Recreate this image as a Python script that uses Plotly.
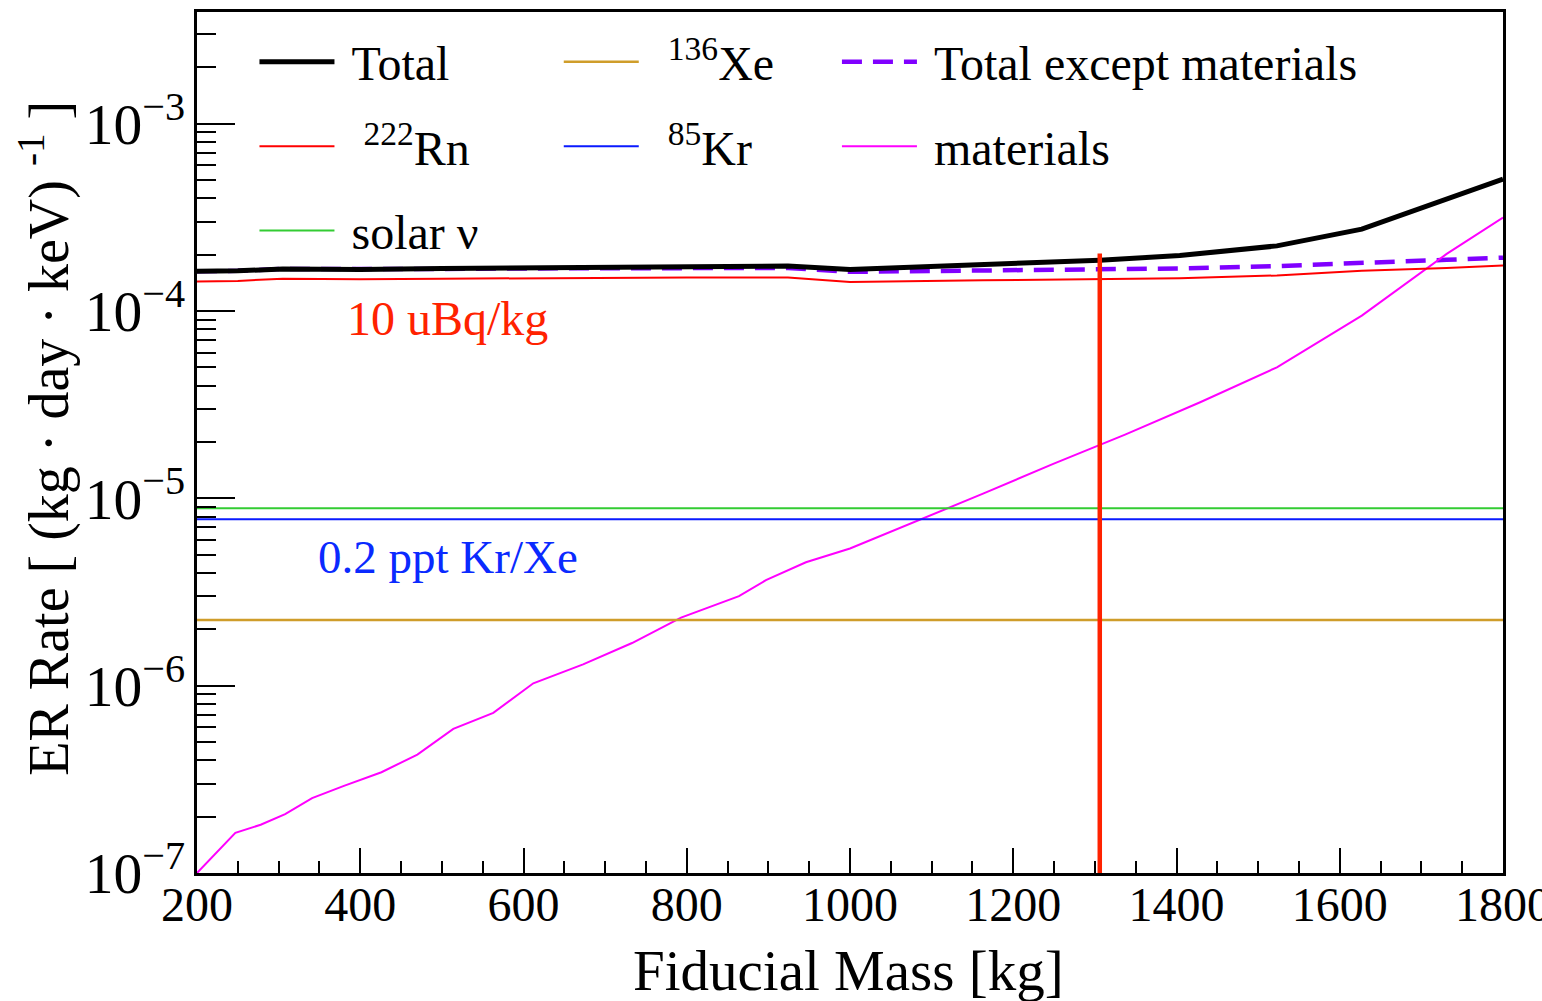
import plotly.graph_objects as go

# ---------------- data ----------------
mass_mat = [200, 247, 278, 308, 341, 380, 426, 470, 514, 563, 612, 673, 733, 793,
            864, 897, 946, 1000, 1163, 1249, 1337, 1429, 1523, 1627, 1731, 1800]
materials = [1.0e-7, 1.64e-7, 1.81e-7, 2.06e-7, 2.51e-7, 2.92e-7, 3.45e-7, 4.29e-7,
             5.88e-7, 7.16e-7, 1.03e-6, 1.30e-6, 1.69e-6, 2.31e-6, 3.01e-6, 3.66e-6,
             4.56e-6, 5.40e-6, 1.06e-5, 1.53e-5, 2.19e-5, 3.26e-5, 5.01e-5, 9.46e-5,
             2.02e-4, 3.16e-4]

mass = [200, 250, 305, 400, 500, 600, 700, 800, 924, 1000, 1163, 1306, 1404, 1523,
        1627, 1731, 1800]
rn222 = [1.44e-4, 1.45e-4, 1.49e-4, 1.48e-4, 1.49e-4, 1.50e-4, 1.51e-4, 1.51e-4,
         1.51e-4, 1.43e-4, 1.46e-4, 1.49e-4, 1.50e-4, 1.55e-4, 1.64e-4, 1.70e-4, 1.75e-4]
total_except = [1.63e-4, 1.64e-4, 1.68e-4, 1.67e-4, 1.68e-4, 1.69e-4, 1.70e-4, 1.70e-4,
                1.70e-4, 1.62e-4, 1.65e-4, 1.68e-4, 1.69e-4, 1.74e-4, 1.82e-4, 1.88e-4, 1.93e-4]
total = [1.63e-4, 1.64e-4, 1.68e-4, 1.67e-4, 1.69e-4, 1.70e-4, 1.72e-4, 1.72e-4,
         1.74e-4, 1.67e-4, 1.76e-4, 1.87e-4, 1.98e-4, 2.23e-4, 2.74e-4, 3.94e-4, 5.07e-4]

mass_flat = [200, 1800]
solar_nu = [8.87e-6, 8.87e-6]
kr85 = [7.75e-6, 7.75e-6]
xe136 = [2.24e-6, 2.24e-6]

cut_mass = [1306, 1306]
cut_rate = [1.0e-7, 2.03e-4]

x_ticks = [200, 400, 600, 800, 1000, 1200, 1400, 1600, 1800]

FONT = "Liberation Serif"
NB = "\u00a0"

fig = go.Figure()

def add(x, y, name, color, width, legend, rank, dash="solid"):
    fig.add_trace(go.Scatter(
        x=x, y=y, mode="lines", name=name,
        line=dict(color=color, width=width, dash=dash),
        legend=legend, legendgroup=name, legendrank=rank,
    ))

# drawing order (later = on top)
add(mass, total_except, NB + "Total except materials", "#8000ff", 4.5, "legend3", 1, dash="20px,11px")
add(mass_mat, materials, NB + "materials", "#ff00ff", 2, "legend3", 2)
add(mass, rn222, NB * 2 + "<sup>222</sup>Rn", "#ff0000", 2, "legend", 2)
add(mass_flat, solar_nu, NB + "solar ν", "#33cc33", 2, "legend", 3)
add(mass_flat, xe136, NB * 2 + "<sup>136</sup>Xe", "#cf9d2a", 2.5, "legend2", 1)
add(mass_flat, kr85, NB * 2 + "<sup>85</sup>Kr", "#0a1aff", 2, "legend2", 2)
add(mass, total, NB + "Total", "black", 5, "legend", 1)

# fiducial cut line
fig.add_trace(go.Scatter(x=cut_mass, y=cut_rate, mode="lines",
                         line=dict(color="#ff2200", width=4.5), showlegend=False))

legend_common = dict(
    font=dict(family=FONT, size=48, color="black"),
    bgcolor="rgba(0,0,0,0)", borderwidth=0,
    itemwidth=75, tracegroupgap=19, orientation="v",
    xanchor="left", yanchor="top", traceorder="grouped",
)

fig.update_layout(
    width=1542, height=1001,
    margin=dict(l=197, r=39, t=12, b=128, autoexpand=False),
    paper_bgcolor="white", plot_bgcolor="white",
    font=dict(family=FONT, size=46, color="black"),
    legend=dict(x=0.044, y=0.986, **legend_common),
    legend2=dict(x=0.277, y=0.986, **legend_common),
    legend3=dict(x=0.49, y=0.986, **legend_common),
)

fig.update_xaxes(
    range=[200, 1800], showline=True, linewidth=2.5, linecolor="black", mirror=True,
    ticks="inside", ticklen=25, tickwidth=2, tickcolor="black",
    tickmode="array", tickvals=x_ticks, ticklabeloverflow="allow",
    ticklabelstandoff=-12, automargin=False,
    minor=dict(ticks="inside", ticklen=12, tickwidth=2, tickcolor="black", dtick=50,
               tick0=200, showgrid=False),
    showgrid=False, zeroline=False,
    tickfont=dict(family=FONT, size=48),
)
fig.update_yaxes(
    type="log", range=[-7, -2.403], showline=True, linewidth=2.5, linecolor="black", mirror=True,
    ticks="inside", ticklen=38, tickwidth=2, tickcolor="black", dtick=1,
    exponentformat="power", showexponent="all", automargin=False,
    minor=dict(ticks="inside", ticklen=19, tickwidth=2, tickcolor="black", dtick="D1", showgrid=False),
    showgrid=False, zeroline=False,
    tickfont=dict(family=FONT, size=46),
)

# axis titles (ROOT-style placement)
fig.add_annotation(text="Fiducial Mass [kg]", xref="paper", yref="paper",
                   x=0.4985, y=-0.113, xanchor="center", yanchor="middle", showarrow=False,
                   font=dict(family=FONT, size=57, color="black"))
fig.add_annotation(text="ER Rate [ (kg · day · keV) <sup>-1</sup> ]", xref="paper", yref="paper",
                   x=-0.116, y=0.505, xanchor="center", yanchor="middle", showarrow=False,
                   textangle=-90, font=dict(family=FONT, size=56, color="black"))

# labels in plot
fig.add_annotation(text="10 uBq/kg", x=507, y=-4.04, xref="x", yref="y", showarrow=False,
                   xanchor="center", yanchor="middle",
                   font=dict(family=FONT, size=48, color="#ff2200"))
fig.add_annotation(text="0.2 ppt Kr/Xe", x=507, y=-5.315, xref="x", yref="y", showarrow=False,
                   xanchor="center", yanchor="middle",
                   font=dict(family=FONT, size=47, color="#0a2aff"))

fig.write_html("out.html")
